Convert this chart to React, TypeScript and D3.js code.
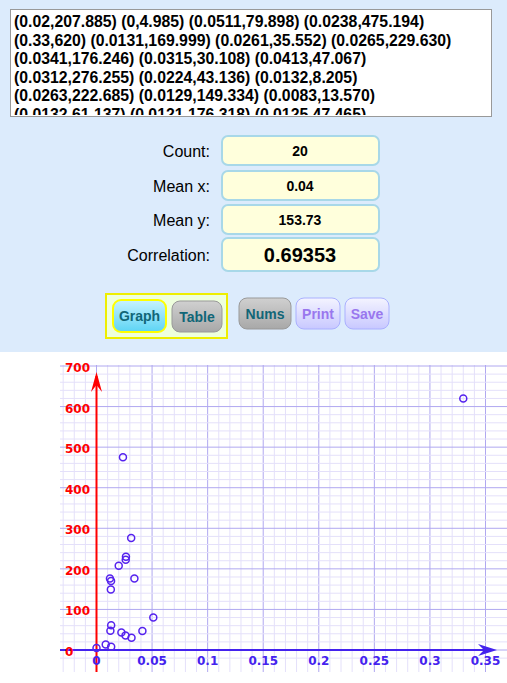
import React from 'react';
import * as d3 from 'd3';

const xs = [0.02, 0, 0.0511, 0.0238, 0.33, 0.0131, 0.0261, 0.0265, 0.0341, 0.0315, 0.0413, 0.0312, 0.0224, 0.0132, 0.0263, 0.0129, 0.0083, 0.0132, 0.0121, 0.0125];
const ys = [207.885, 4.985, 79.898, 475.194, 620, 169.999, 35.552, 229.63, 176.246, 30.108, 47.067, 276.255, 43.136, 8.205, 222.685, 149.334, 13.57, 61.137, 176.318, 47.465];
const textLines = [
  '(0.02,207.885) (0,4.985) (0.0511,79.898) (0.0238,475.194)',
  '(0.33,620) (0.0131,169.999) (0.0261,35.552) (0.0265,229.630)',
  '(0.0341,176.246) (0.0315,30.108) (0.0413,47.067)',
  '(0.0312,276.255) (0.0224,43.136) (0.0132,8.205)',
  '(0.0263,222.685) (0.0129,149.334) (0.0083,13.570)',
  '(0.0132,61.137) (0.0121,176.318) (0.0125,47.465)',
];
const stats = [
  { label: 'Count:', value: '20' },
  { label: 'Mean x:', value: '0.04' },
  { label: 'Mean y:', value: '153.73' },
  { label: 'Correlation:', value: '0.69353' },
];
const xTicks = [0, 0.05, 0.1, 0.15, 0.2, 0.25, 0.3, 0.35];
const yTicks = [0, 100, 200, 300, 400, 500, 600, 700];

const App: React.FC = () => {
  const ref = React.useRef<SVGSVGElement>(null);

  React.useEffect(() => {
    const svg = d3.select(ref.current);
    svg.selectAll('*').remove();
    const font = 'Arial, "Liberation Sans", sans-serif';

    svg.append('rect').attr('width', 507).attr('height', 352).attr('fill', '#dcebfc');
    svg.append('rect').attr('y', 352).attr('width', 507).attr('height', 331).attr('fill', '#fff');

    // textarea
    svg.append('rect').attr('x', 10.5).attr('y', 9.5).attr('width', 481).attr('height', 107)
      .attr('fill', '#fff').attr('stroke', '#999');
    const clip = svg.append('clipPath').attr('id', 'ta');
    clip.append('rect').attr('x', 11).attr('y', 10).attr('width', 480).attr('height', 105);
    const ta = svg.append('g').attr('clip-path', 'url(#ta)');
    textLines.forEach((l, i) => {
      ta.append('text').attr('x', 14).attr('y', 27 + i * 18.6).text(l)
        .style('font-family', font).style('font-size', '15.8px').style('font-weight', 'bold');
    });

    // stats
    const rows = [{ y: 136, h: 29 }, { y: 171, h: 29 }, { y: 205, h: 29 }, { y: 238, h: 33 }];
    stats.forEach((s, i) => {
      const r = rows[i];
      svg.append('text').attr('x', 210).attr('y', r.y + r.h / 2 + 6).attr('text-anchor', 'end')
        .text(s.label).style('font-family', font).style('font-size', '16px');
      svg.append('rect').attr('x', 222).attr('y', r.y).attr('width', 157).attr('height', r.h).attr('rx', 6)
        .attr('fill', '#ffffdc').attr('stroke', '#a8d8e8').attr('stroke-width', 2);
      svg.append('text').attr('x', 300).attr('y', r.y + r.h / 2 + (i === 3 ? 7 : 5)).attr('text-anchor', 'middle')
        .text(s.value).style('font-family', font).style('font-weight', 'bold')
        .style('font-size', i === 3 ? '20px' : '14px');
    });

    // buttons
    svg.append('rect').attr('x', 106).attr('y', 294).attr('width', 121).attr('height', 44)
      .attr('fill', '#eeffdd').attr('stroke', '#eeee00').attr('stroke-width', 2);
    const defs = svg.append('defs');
    const g1 = defs.append('linearGradient').attr('id', 'gb').attr('x2', 0).attr('y2', 1);
    g1.append('stop').attr('offset', 0).attr('stop-color', '#c8f2ff');
    g1.append('stop').attr('offset', 1).attr('stop-color', '#5cd4f4');
    const g2 = defs.append('linearGradient').attr('id', 'gg').attr('x2', 0).attr('y2', 1);
    g2.append('stop').attr('offset', 0).attr('stop-color', '#d0d0d0');
    g2.append('stop').attr('offset', 1).attr('stop-color', '#a8a8a8');
    const g3 = defs.append('linearGradient').attr('id', 'gp').attr('x2', 0).attr('y2', 1);
    g3.append('stop').attr('offset', 0).attr('stop-color', '#f4f4ff');
    g3.append('stop').attr('offset', 1).attr('stop-color', '#c8c8ff');
    const buttons = [
      { t: 'Graph', x: 113, y: 300, w: 53, h: 32, fill: 'url(#gb)', stroke: '#ffff00', col: '#116677' },
      { t: 'Table', x: 172, y: 301, w: 50, h: 31, fill: 'url(#gg)', stroke: '#999', col: '#116677' },
      { t: 'Nums', x: 239, y: 298, w: 52, h: 31, fill: 'url(#gg)', stroke: '#999', col: '#116677' },
      { t: 'Print', x: 296, y: 298, w: 44, h: 31, fill: 'url(#gp)', stroke: '#aab0ff', col: '#9977ee' },
      { t: 'Save', x: 345, y: 298, w: 44, h: 31, fill: 'url(#gp)', stroke: '#aab0ff', col: '#9977ee' },
    ];
    buttons.forEach(b => {
      svg.append('rect').attr('x', b.x).attr('y', b.y).attr('width', b.w).attr('height', b.h).attr('rx', 8)
        .attr('fill', b.fill).attr('stroke', b.stroke).attr('stroke-width', b.t === 'Graph' ? 2 : 1);
      svg.append('text').attr('x', b.x + b.w / 2).attr('y', b.y + b.h / 2 + 5).attr('text-anchor', 'middle')
        .text(b.t).style('font-family', font).style('font-weight', 'bold').style('font-size', '14px').attr('fill', b.col);
    });

    // graph
    const x = d3.scaleLinear().domain([0, 0.35]).range([96.5, 485.5]);
    const y = d3.scaleLinear().domain([0, 700]).range([650, 366]);
    const gx0 = 60, gx1 = 507, gy0 = 365, gy1 = 672;
    const grid = svg.append('g');
    d3.range(-3, 36).map(i => i * 0.01).forEach(v => {
      const major = Math.round(v * 100) % 5 === 0;
      grid.append('line').attr('x1', x(v)).attr('x2', x(v)).attr('y1', gy0).attr('y2', gy1)
        .attr('stroke', major ? '#b0a8f0' : '#e4e0fa').attr('stroke-width', 1);
    });
    d3.range(-1, 36).map(i => i * 20).forEach(v => {
      const major = v % 100 === 0;
      grid.append('line').attr('x1', gx0).attr('x2', gx1).attr('y1', y(v)).attr('y2', y(v))
        .attr('stroke', major ? '#b0a8f0' : '#e4e0fa').attr('stroke-width', 1);
    });

    // axes
    svg.append('line').attr('x1', 96.5).attr('x2', 96.5).attr('y1', gy1).attr('y2', 376)
      .attr('stroke', 'red').attr('stroke-width', 2);
    svg.append('path').attr('d', 'M96.5,372 L91,392 L96.5,385 L102,392 Z').attr('fill', 'red');
    svg.append('line').attr('x1', gx0).attr('x2', 492).attr('y1', 650).attr('y2', 650)
      .attr('stroke', '#4422ee').attr('stroke-width', 2);
    svg.append('path').attr('d', 'M497,650 L478,644 L484,650 L478,656 Z').attr('fill', '#4422ee');

    yTicks.forEach(v => {
      svg.append('text').attr('x', 65).attr('y', y(v) + 6).text(v).attr('fill', 'red')
        .style('font-family', 'Verdana, "DejaVu Sans", sans-serif').style('font-weight', 'bold').style('font-size', '12px');
    });
    xTicks.forEach(v => {
      svg.append('text').attr('x', x(v)).attr('y', 665).attr('text-anchor', 'middle').text(v).attr('fill', '#4422ee')
        .style('font-family', 'Verdana, "DejaVu Sans", sans-serif').style('font-weight', 'bold').style('font-size', '12px');
    });

    xs.forEach((xv, i) => {
      svg.append('circle').attr('cx', x(xv)).attr('cy', y(ys[i])).attr('r', 3.5)
        .attr('fill', 'none').attr('stroke', '#5522ee').attr('stroke-width', 1.5);
    });
  }, []);

  return (
    <div style={{ position: 'absolute', left: 0, top: 0 }}>
      <svg ref={ref} width={507} height={683} style={{ display: 'block' }} />
    </div>
  );
};

export default App;
